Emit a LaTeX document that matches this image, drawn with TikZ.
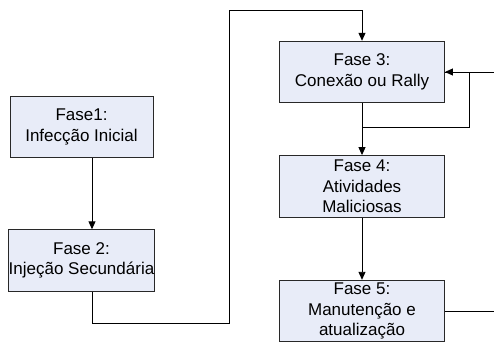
\documentclass[tikz,border=0pt]{standalone}
\usepackage{fontspec}
\setmainfont{Liberation Sans}
\usetikzlibrary{arrows.meta}
\definecolor{fasefill}{RGB}{232,236,248}
\definecolor{faseline}{RGB}{40,40,40}

\begin{document}
\begin{tikzpicture}[x=1pt,y=-1pt,
  fase/.style={draw=faseline,fill=fasefill,line width=0.9pt,inner sep=0pt,
    align=center,font=\fontsize{17}{20.5}\selectfont,minimum height=61.5pt},
  left/.style={fase,minimum width=143pt},
  right/.style={fase,minimum width=165pt},
  every path/.style={line width=0.9pt},
  ->/.style={-{Triangle[width=7pt,length=8pt]}}]
\useasboundingbox (0,0) rectangle (494,342);
\node[left]  (f1) at (81.5,127)   {Fase1:\\Infecção Inicial};
\node[left]  (f2) at (81.5,260.5) {Fase 2:\\Injeção Secundária};
\node[right] (f3) at (362,72)     {Fase 3:\\Conexão ou Rally};
\node[right] (f4) at (362,186.3)  {Fase 4:\\Atividades\\Maliciosas};
\node[right] (f5) at (362,311)    {Fase 5:\\Manutenção e\\atualização};
\coordinate (b1)  at (229.3,323);
\coordinate (b2)  at (229.3,10.3);
\coordinate (lp)  at (469.3,127.7);
\coordinate (in3) at (494,72);
\coordinate (out5) at (494,311);
\draw[->] ([xshift=10.5pt]f1.south) -- ([xshift=10.5pt]f2.north);
\draw[->] ([xshift=10.5pt]f2.south) |- (b1) -- (b2) -| (f3.north);
\draw[->] (f3.south) -- (f4.north);
\draw (f3.south) |- (lp) |- (f3.east);
\draw[->] (in3) -- (f3.east);
\draw[->] (f4.south) -- (f5.north);
\draw (f5.east) -- (out5);
\end{tikzpicture}
\end{document}
